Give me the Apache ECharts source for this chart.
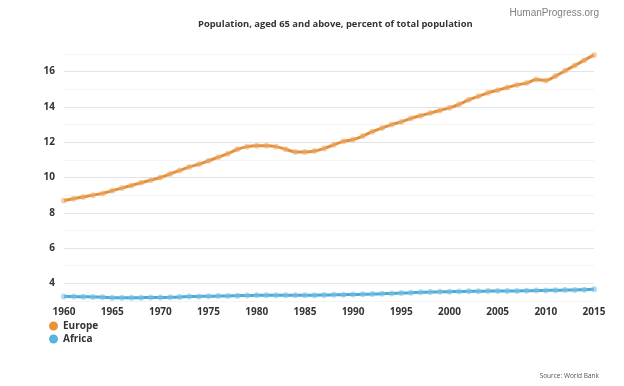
<!DOCTYPE html>
<html><head><meta charset="utf-8">
<script src="https://cdn.jsdelivr.net/npm/echarts@6/dist/echarts.min.js"></script>
<style>html,body{margin:0;padding:0;background:#fff}#c{width:624px;height:386px}</style>
</head><body><div id="c"></div>
<script>
const years = [];
for (let y = 1960; y <= 2015; y++) years.push(String(y));
const europe = [8.7,8.8,8.9,9.0,9.1,9.25,9.4,9.55,9.7,9.85,
  10.0,10.2,10.4,10.6,10.75,10.95,11.15,11.35,11.6,11.75,
  11.8,11.8,11.75,11.6,11.45,11.45,11.5,11.65,11.85,12.05,
  12.15,12.35,12.6,12.8,13.0,13.15,13.35,13.5,13.65,13.8,
  13.95,14.15,14.4,14.6,14.8,14.95,15.1,15.25,15.35,15.55,
  15.5,15.75,16.05,16.35,16.65,16.95];
const africa = [3.26,3.25,3.24,3.23,3.21,3.19,3.18,3.18,3.19,3.2,
  3.2,3.21,3.23,3.25,3.26,3.27,3.28,3.29,3.3,3.31,
  3.32,3.32,3.33,3.33,3.33,3.33,3.33,3.34,3.35,3.36,
  3.37,3.38,3.39,3.41,3.43,3.45,3.47,3.49,3.51,3.52,
  3.53,3.54,3.55,3.55,3.56,3.56,3.57,3.57,3.58,3.59,
  3.6,3.61,3.62,3.63,3.64,3.66];
const yTicks = [4,6,8,10,12,14,16];
const font = '"Open Sans", "Noto Sans", sans-serif';
const chart = echarts.init(document.getElementById('c'));
chart.setOption({
  animation: false,
  textStyle: {fontFamily: font},
  title: [
    {text: 'Population, aged 65 and above, percent of total population', left: 193, top: 15,
     textStyle: {fontFamily: font, fontSize: 9.4, fontWeight: 'bold', color: '#333'}},
    {text: 'HumanProgress.org', right: 20, top: 3,
     textStyle: {fontFamily: '"Liberation Sans", Arial, sans-serif', fontSize: 10, fontWeight: 'normal', color: '#808080'}},
    {text: 'Source: World Bank', right: 20, top: 368,
     textStyle: {fontFamily: font, fontSize: 6.5, fontWeight: 'normal', color: '#555'}}
  ],
  legend: {
    orient: 'vertical', left: 44, top: 316, itemWidth: 9, itemHeight: 9, itemGap: 3,
    icon: 'circle',
    textStyle: {fontFamily: font, fontSize: 10, fontWeight: 'bold', color: '#333'},
    data: [{name: 'Europe', itemStyle: {color: '#E8933C'}}, {name: 'Africa', itemStyle: {color: '#5AB4DC'}}]
  },
  grid: {left: 64, right: 30, top: 54, bottom: 85},
  xAxis: {
    type: 'category', data: years, boundaryGap: false,
    axisLine: {show: false}, axisTick: {show: false},
    axisLabel: {interval: 4, color: '#333', fontSize: 10, fontWeight: 'bold', margin: 6, fontFamily: font},
    splitLine: {show: false}
  },
  yAxis: {
    type: 'value', min: 3, max: 17, interval: 1,
    axisLine: {show: false}, axisTick: {show: false},
    axisLabel: {color: '#333', fontSize: 10, fontWeight: 'bold', margin: 9, align: 'right', fontFamily: font,
      formatter: v => yTicks.indexOf(v) >= 0 ? String(v) : ''},
    splitLine: {lineStyle: {color: ['#f4f4f4', '#e4e4e4'], width: 1}}
  },
  series: [
    {name: 'Europe', type: 'line', data: europe, smooth: 0.3, color: '#E8933C',
     lineStyle: {width: 3, color: '#E0913F'}, symbol: 'circle', symbolSize: 6,
     itemStyle: {color: 'rgba(240,170,100,0.55)'}},
    {name: 'Africa', type: 'line', data: africa, smooth: 0.3, color: '#5AB4DC',
     lineStyle: {width: 3, color: '#4FA9D3'}, symbol: 'circle', symbolSize: 6,
     itemStyle: {color: 'rgba(120,195,230,0.6)'}}
  ]
});
</script></body></html>
